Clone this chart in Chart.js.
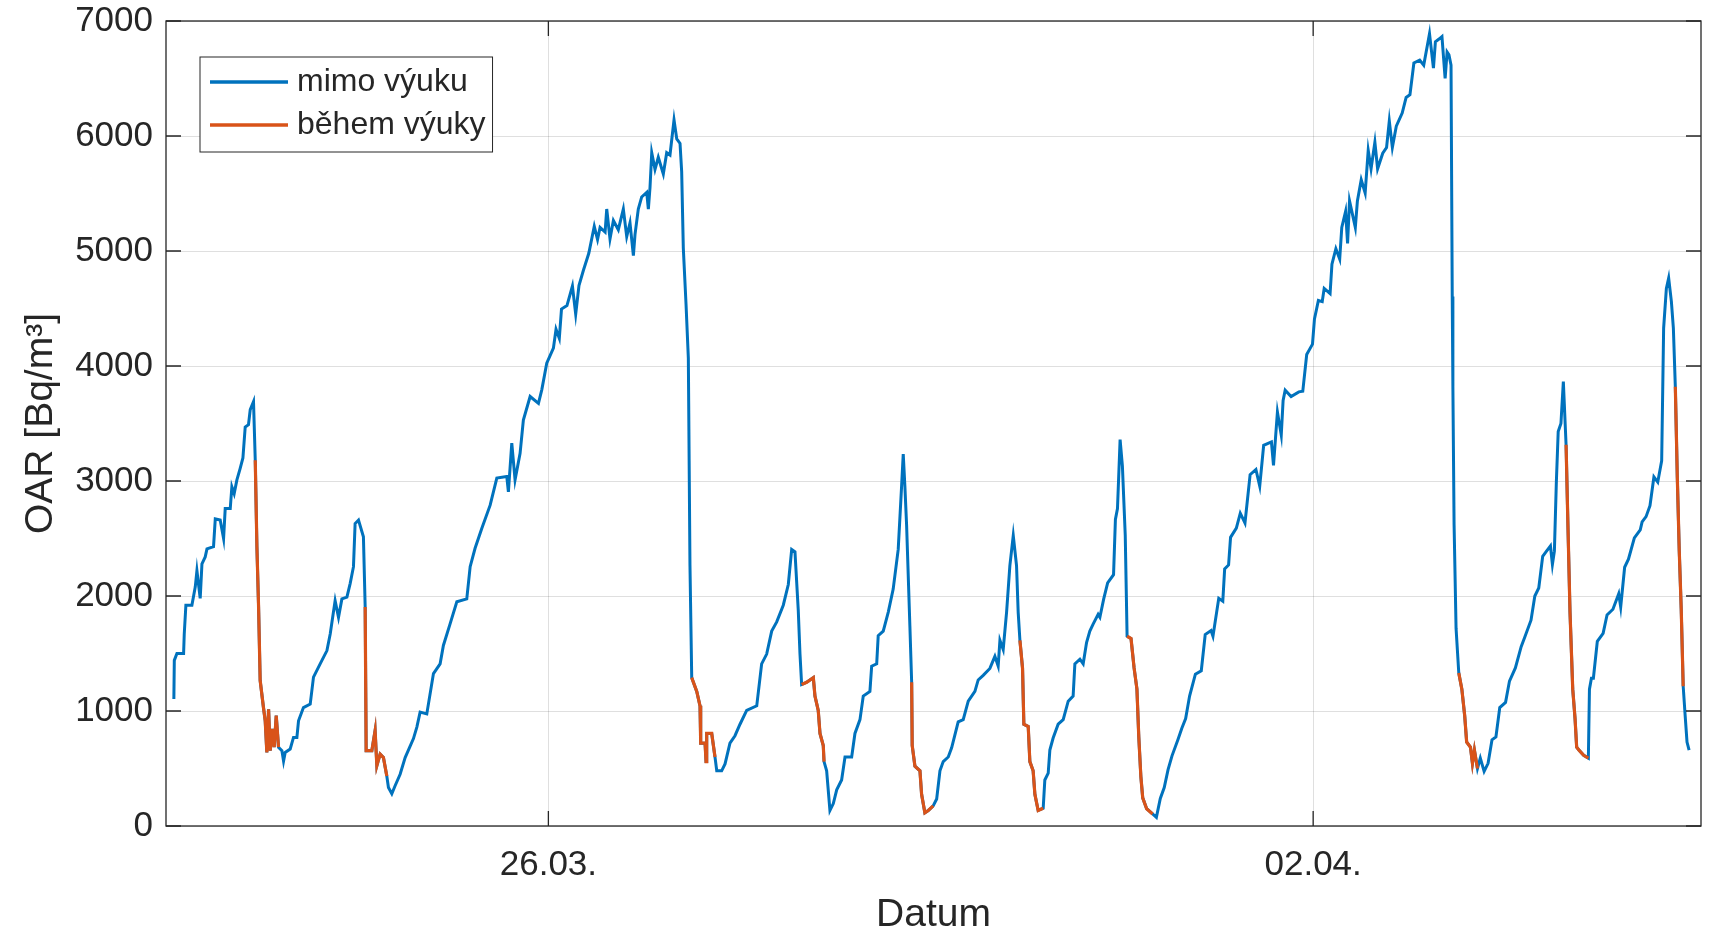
<!DOCTYPE html>
<html>
<head>
<meta charset="utf-8">
<script src="https://cdn.jsdelivr.net/npm/chart.js@4.4.1/dist/chart.umd.min.js"></script>
<style>
  html, body { margin: 0; padding: 0; background: #fff; }
</style>
</head>
<body>
<canvas id="graf" width="1712" height="931"></canvas>
<script>
// cas = dny od 26.03. 00:00, oar = objemova aktivita radonu [Bq/m3]
const cas = [
  -3.428,-3.424,-3.400,-3.339,-3.333,-3.318,-3.263,-3.232,-3.217,-3.187,-3.171,-3.141,-3.125,-3.065,-3.049,-3.004,-2.973,-2.958,-2.912,-2.897,-2.876,-2.851,-2.821,-2.796,-2.775,-2.745,-2.729,-2.699,-2.683,
  -2.668,-2.653,-2.638,-2.608,-2.592,-2.577,-2.561,-2.546,-2.525,-2.510,-2.491,-2.470,
  -2.439,-2.424,-2.409,-2.363,-2.333,-2.302,-2.287,-2.242,-2.180,-2.150,-2.089,-2.027,-1.997,-1.952,-1.921,-1.890,-1.844,-1.814,-1.784,-1.769,-1.738,-1.693,-1.677,
  -1.668,-1.616,-1.586,-1.570,-1.540,-1.510,-1.479,
  -1.464,-1.433,-1.403,-1.357,-1.311,-1.235,-1.204,-1.174,-1.113,-1.052,-0.991,-0.961,-0.899,-0.838,-0.747,-0.716,-0.671,-0.609,-0.533,-0.472,-0.381,-0.366,-0.335,-0.305,-0.259,-0.229,-0.167,-0.091,-0.060,-0.015,0.046,
  0.07,0.10,0.12,0.17,0.22,0.25,0.28,0.32,0.37,0.42,0.45,
  0.473,0.519,0.534,0.564,0.595,0.640,0.686,0.717,0.747,0.778,0.793,0.823,0.854,0.900,0.915,0.930,0.946,0.976,1.006,1.052,1.083,1.113,1.150,1.175,1.205,1.220,1.235,1.260,1.281,1.296,1.312,
  1.358,1.388,1.394,1.434,1.443,1.449,1.495,1.525,
  1.541,1.586,1.617,1.662,1.708,1.754,1.815,1.907,1.952,1.998,2.044,2.090,2.150,2.196,2.227,2.257,2.287,2.303,2.318,
  2.364,2.425,2.440,2.470,2.486,2.516,2.523,
  2.547,2.577,2.608,2.639,2.684,2.715,2.776,2.806,2.852,2.882,2.943,2.959,3.005,3.019,3.065,3.111,3.156,3.202,3.233,3.248,3.263,3.279,3.309,3.325,
  3.330,3.355,3.401,3.416,3.446,3.477,3.522,
  3.554,3.584,3.614,3.660,3.691,3.751,3.797,3.843,3.904,3.934,3.980,4.041,4.087,4.117,4.133,4.163,4.194,4.224,4.255,4.285,4.300,4.316,
  4.340,4.352,4.392,4.407,4.437,4.453,4.483,4.529,
  4.544,4.575,4.590,4.620,4.666,4.712,4.758,4.803,4.819,4.865,4.895,4.926,4.956,4.986,5.032,5.048,5.083,5.119,5.173,5.190,5.209,5.233,5.254,5.280,5.297,
  5.333,5.361,5.387,5.404,5.423,5.440,5.476,5.530,
  5.565,5.601,5.637,5.672,5.708,5.762,5.798,5.833,5.869,5.922,5.976,6.012,6.065,6.083,6.136,6.173,6.190,6.226,6.244,6.297,6.333,6.376,6.423,6.476,6.511,6.547,6.618,6.637,6.673,6.708,6.725,6.744,6.798,6.869,6.905,6.941,6.994,
  7.012,7.048,7.083,7.101,7.155,7.172,7.208,7.243,7.262,7.297,7.315,7.333,7.386,7.405,7.440,7.476,7.504,7.530,7.565,7.590,7.637,7.672,7.697,7.725,7.761,7.815,7.851,7.886,7.922,7.975,8.012,8.065,8.101,8.119,8.155,8.179,8.208,8.226,8.243,8.262,8.273,8.279,8.290,8.308,8.333,
  8.361,8.387,8.405,8.440,8.458,8.476,8.504,
  8.530,8.565,8.601,8.637,8.673,8.708,8.761,8.797,8.851,8.904,8.940,8.994,9.029,9.065,9.101,9.136,9.172,9.190,9.208,9.226,9.243,9.268,9.290,9.315,
  9.333,9.351,9.376,9.397,
  9.412,
  9.433,9.476,9.519,
  9.529,9.547,9.565,9.601,9.654,9.690,9.744,9.797,9.815,9.851,9.886,9.940,9.994,10.011,10.047,10.083,10.119,10.154,10.190,10.208,10.233,10.254,10.279,10.297,10.315,
  10.333,10.351,10.369,10.387,
  10.405,10.422,10.441
];
const oar = [
  1105,1440,1500,1500,1670,1920,1920,2080,2220,1980,2280,2340,2410,2430,2670,2660,2500,2760,2760,2950,2890,3010,3110,3200,3470,3490,3620,3690,3180,
  2430,1920,1265,1030,915,640,1015,655,845,685,960,685,
  655,565,640,670,770,770,915,1030,1060,1295,1410,1525,1670,1960,1815,1975,1990,2110,2255,2630,2660,2515,1905,
  655,655,830,525,625,595,435,
  335,280,350,450,595,760,860,990,975,1325,1410,1570,1760,1950,1975,2255,2415,2590,2790,3025,3040,2905,3330,3010,3240,3530,3735,3675,3795,4025,4155,
  4320,4240,4495,4525,4695,4450,4700,4830,4980,5215,5100,
  5205,5165,5365,5105,5265,5185,5365,5125,5245,4960,5145,5365,5470,5510,5365,5550,5855,5710,5815,5670,5855,5835,6140,5975,5935,5690,5025,4535,4070,2265,1290,
  1170,1045,720,720,560,805,805,600,
  480,480,540,720,785,885,1005,1045,1410,1495,1695,1775,1920,2100,2405,2385,1880,1495,1230,
  1250,1290,1130,1005,805,700,560,
  480,135,195,315,400,600,600,805,925,1130,1170,1390,1410,1655,1695,1860,2060,2405,2955,3235,2955,2610,1735,1250,
  700,520,480,275,115,135,175,
  235,480,560,600,680,905,925,1085,1170,1270,1310,1370,1475,1390,1615,1535,1860,2265,2525,2265,1860,1615,
  1370,885,865,560,480,275,135,155,
  400,460,660,765,885,925,1085,1130,1410,1450,1410,1595,1695,1755,1840,1815,1975,2115,2185,2665,2760,3360,3130,2530,1650,
  1630,1375,1190,775,430,245,150,105,
  75,240,335,490,610,750,850,935,1130,1320,1350,1665,1700,1650,1980,1955,2235,2270,2510,2590,2720,2635,3055,3100,2955,3310,3340,3135,3600,3400,3700,3790,3735,3775,3780,4100,4190,
  4410,4570,4560,4675,4630,4885,5020,4930,5205,5345,5065,5435,5205,5435,5620,5505,5875,5715,5945,5715,5850,5900,6130,5900,6085,6200,6335,6360,6635,6660,6615,6890,6590,6820,6845,6865,6500,6730,6705,6615,4605,3820,2620,1720,1330,
  1190,960,730,685,545,660,500,
  590,475,545,750,775,1030,1075,1260,1375,1560,1650,1790,2000,2070,2345,2390,2435,2275,2390,2990,3430,3500,3865,3315,
  2575,1860,1190,935,
  685,
  660,615,590,
  1190,1285,1285,1605,1675,1835,1885,2020,1905,2250,2320,2505,2575,2645,2690,2785,3035,2990,3175,4330,4675,4765,4560,4330,3820,
  3035,2390,1885,1215,
  960,730,660
];
// useky behem vyuky [od, do] v dnech
const vyuka = [
  [-2.683, -2.470], [-1.677, -1.479], [1.312, 1.525], [2.318, 2.523],
  [3.325, 3.522], [4.316, 4.529], [5.297, 5.530], [8.333, 8.504],
  [9.315, 9.397], [9.412, 9.519], [10.315, 10.387]
];
const nazvy = ["mimo výuku", "během výuky"];
const xTicks = [0, 7];
const xTickLabels = ["26.03.", "02.04."];
const yTicks = [0, 1000, 2000, 3000, 4000, 5000, 6000, 7000];

if (cas.length !== oar.length) console.log("delky nesedi", cas.length, oar.length);

const modra = "#0072BD";
const oranzova = "#D95319";
const textColor = "#262626";
const pismo = "'Liberation Sans', Arial, sans-serif";

const mimo = cas.map((t, i) => ({ x: t, y: oar[i] }));
const behem = cas.map((t, i) => {
  const uvnitr = vyuka.some(v => t >= v[0] - 1e-6 && t <= v[1] + 1e-6);
  return { x: t, y: uvnitr ? oar[i] : null };
});

// ramecek os, ticky dovnitr a legenda uvnitr grafu
const ramecek = {
  id: "ramecek",
  afterDraw(chart) {
    const ctx = chart.ctx;
    const a = chart.chartArea;
    const sx = chart.scales.x, sy = chart.scales.y;
    ctx.save();
    ctx.strokeStyle = textColor;
    ctx.lineWidth = 1.3;
    ctx.strokeRect(a.left, a.top, a.right - a.left, a.bottom - a.top);
    ctx.beginPath();
    yTicks.forEach(v => {
      const y = sy.getPixelForValue(v);
      ctx.moveTo(a.left, y); ctx.lineTo(a.left + 15, y);
      ctx.moveTo(a.right, y); ctx.lineTo(a.right - 15, y);
    });
    xTicks.forEach(v => {
      const x = sx.getPixelForValue(v);
      ctx.moveTo(x, a.bottom); ctx.lineTo(x, a.bottom - 15);
      ctx.moveTo(x, a.top); ctx.lineTo(x, a.top + 15);
    });
    ctx.stroke();

    // legenda
    const lx = a.left + 34, ly = a.top + 36;
    ctx.font = "32px " + pismo;
    const w = Math.max(...nazvy.map(n => ctx.measureText(n).width)) + 104;
    const h = 95;
    ctx.fillStyle = "#fff";
    ctx.fillRect(lx, ly, w, h);
    ctx.lineWidth = 1;
    ctx.strokeRect(lx, ly, w, h);
    chart.data.datasets.forEach((ds, i) => {
      const y = ly + 25 + i * 43;
      ctx.strokeStyle = ds.borderColor;
      ctx.lineWidth = 3.5;
      ctx.beginPath();
      ctx.moveTo(lx + 10, y); ctx.lineTo(lx + 88, y);
      ctx.stroke();
      ctx.fillStyle = textColor;
      ctx.textBaseline = "middle";
      ctx.fillText(ds.label, lx + 97, y);
    });
    ctx.restore();
  }
};

new Chart(document.getElementById("graf").getContext("2d"), {
  type: "line",
  data: {
    datasets: [
      { label: nazvy[0], data: mimo, borderColor: modra, borderWidth: 3, pointRadius: 0, spanGaps: false, order: 2 },
      { label: nazvy[1], data: behem, borderColor: oranzova, borderWidth: 3.2, pointRadius: 0, spanGaps: false, order: 1 }
    ]
  },
  options: {
    responsive: false,
    animation: false,
    layout: { padding: { top: 21, right: 11, left: 0, bottom: 0 } },
    plugins: { legend: { display: false }, tooltip: { enabled: false } },
    elements: { line: { tension: 0 } },
    scales: {
      x: {
        type: "linear",
        min: -3.5,
        max: 10.55,
        afterBuildTicks: s => { s.ticks = xTicks.map(v => ({ value: v })); },
        afterFit: s => { s.height = 105; },
        border: { display: false },
        grid: { color: "rgba(38,38,38,0.15)", drawTicks: false },
        ticks: {
          autoSkip: false, maxRotation: 0, padding: 18, color: textColor,
          font: { family: pismo, size: 35 },
          callback: v => xTickLabels[xTicks.indexOf(v)]
        },
        title: {
          display: true, text: "Datum", color: textColor, padding: 0,
          font: { family: pismo, size: 39, lineHeight: 0.8 }
        }
      },
      y: {
        min: 0,
        max: 7000,
        afterBuildTicks: s => { s.ticks = yTicks.map(v => ({ value: v })); },
        afterFit: s => { s.width = 166; s.paddingTop = 0; s.paddingBottom = 0; },
        border: { display: false },
        grid: { color: "rgba(38,38,38,0.15)", drawTicks: false },
        ticks: {
          padding: 13, color: textColor,
          font: { family: pismo, size: 35 },
          callback: v => String(v)
        },
        title: {
          display: true, text: "OAR [Bq/m³]", color: textColor,
          padding: { top: 18, bottom: 0 },
          font: { family: pismo, size: 39, lineHeight: 1.2 }
        }
      }
    }
  },
  plugins: [ramecek]
});
</script>
</body>
</html>
